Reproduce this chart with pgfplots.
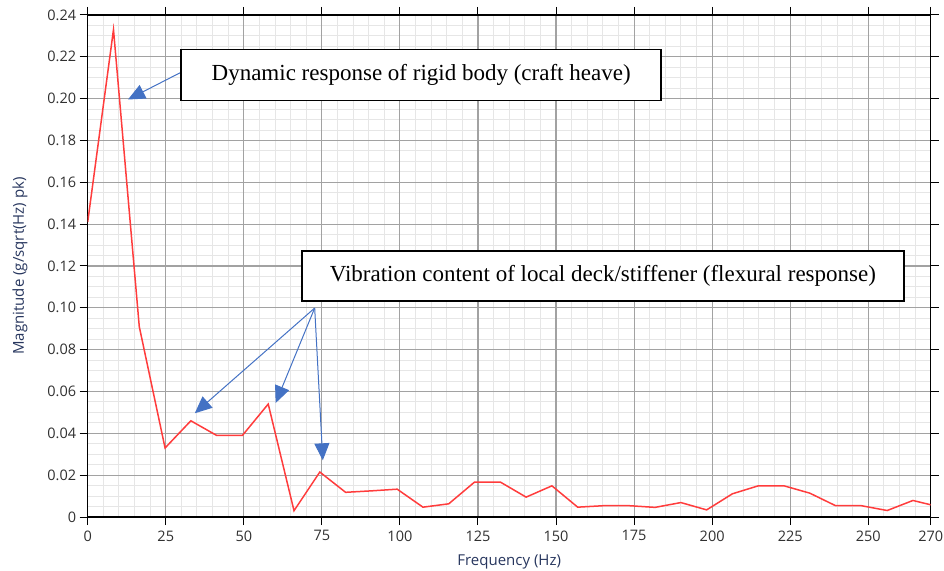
\documentclass[border=0pt]{standalone}
\usepackage{fontspec}
\setmainfont{Open Sans}
\newfontfamily\boxfont{Liberation Serif}
\usepackage{pgfplots}
\usepackage{pgfplotstable}
\pgfplotsset{compat=1.18}
\usetikzlibrary{arrows.meta}
\definecolor{gridmaj}{HTML}{A2A2A2}
\definecolor{gridmin}{HTML}{E6E6E6}
\definecolor{sigred}{HTML}{FF3C3C}
\definecolor{arrblue}{HTML}{4472C4}
\definecolor{labnavy}{HTML}{27365E}
\definecolor{ticktxt}{HTML}{303030}

\pgfplotstableread{
f m
0 0.141
8.26 0.233
16.52 0.091
24.78 0.033
33.04 0.046
41.30 0.039
49.56 0.039
57.82 0.054
66.08 0.003
74.34 0.0215
82.60 0.0118
90.86 0.0125
99.12 0.0133
107.38 0.0047
115.64 0.0063
123.90 0.0167
132.16 0.0167
140.42 0.0095
148.68 0.0149
156.94 0.0047
165.20 0.0054
173.46 0.0054
181.72 0.0046
189.98 0.0069
198.24 0.0034
206.50 0.0111
214.76 0.0149
223.02 0.0149
231.28 0.0114
239.54 0.0054
247.80 0.0054
256.06 0.0031
264.32 0.0079
272.58 0.0049
}\datatable

\begin{document}
\begin{tikzpicture}
% minor grid underneath
\begin{axis}[
  scale only axis,
  width=843bp, height=502bp,
  xmin=0, xmax=270, ymin=0, ymax=0.24,
  xtick={5,10,...,265},
  ytick={0.005,0.01,...,0.2351},
  xticklabels={}, yticklabels={},
  grid=major,
  major grid style={gridmin, line width=1bp},
  major tick length=0pt,
  tick style={draw=none},
  axis line style={draw=none},
]
\end{axis}
% main axis
\begin{axis}[
  scale only axis,
  width=843bp, height=502bp,
  xmin=0, xmax=270, ymin=0, ymax=0.24,
  xtick={0,25,50,75,100,125,150,175,200,225,250,270},
  xticklabels={0,25,50,75,100,125,150,175,200,225,250,270},
  ytick={0,0.02,0.04,0.06,0.08,0.10,0.12,0.14,0.16,0.18,0.20,0.22,0.24},
  yticklabels={0,0.02,0.04,0.06,0.08,0.10,0.12,0.14,0.16,0.18,0.20,0.22,0.24},
  grid=major,
  major grid style={gridmaj, line width=1.1bp},
  tick align=outside,
  major tick length=8bp,
  tick style={black, line width=1bp},
  axis line style={black, line width=1.4bp},
  /pgf/number format/assume math mode=true,
  tick label style={font=\fontsize{14.5bp}{17bp}\selectfont, text=ticktxt},
  xticklabel style={yshift=-2bp},
  xlabel={Frequency (Hz)},
  ylabel={Magnitude (g/sqrt(Hz) pk)},
  label style={font=\fontsize{15bp}{18bp}\selectfont, text=labnavy},
  xlabel style={at={(axis description cs:0.5,-0.0896)}, anchor=center},
  ylabel style={at={(axis description cs:-0.0803,0.5)}, anchor=center},
  clip=true,
]
\addplot[sigred, line width=1.5bp, mark=none] table[x=f, y=m] {\datatable};

\draw[arrblue, line width=1bp, -{Triangle[length=17bp,width=15bp]}]
  (axis cs:30.4,0.2130) -- (axis cs:12.9,0.1996);
\draw[arrblue, line width=1bp, -{Triangle[length=17bp,width=15bp]}]
  (axis cs:72.7,0.0999) -- (axis cs:34.3,0.0496);
\draw[arrblue, line width=1bp, -{Triangle[length=17bp,width=15bp]}]
  (axis cs:72.7,0.0999) -- (axis cs:60.2,0.0545);
\draw[arrblue, line width=1bp, -{Triangle[length=17bp,width=15bp]}]
  (axis cs:72.7,0.0999) -- (axis cs:75.3,0.0271);

\node[draw=black, line width=1.5bp, fill=white, minimum width=480bp, minimum height=51bp,
  inner sep=0pt, font=\boxfont\fontsize{23bp}{27bp}\selectfont]
  at (axis cs:106.8,0.2113) {Dynamic response of rigid body (craft heave)};
\node[draw=black, line width=1.5bp, fill=white, minimum width=602bp, minimum height=50bp,
  inner sep=0pt, font=\boxfont\fontsize{23bp}{27bp}\selectfont]
  at (axis cs:165.0,0.1152) {Vibration content of local deck/stiffener (flexural response)};
\end{axis}
\pgfresetboundingbox
\path[use as bounding box] (-87.7bp,-54bp) rectangle (856.3bp,517bp);
\end{tikzpicture}
\end{document}
